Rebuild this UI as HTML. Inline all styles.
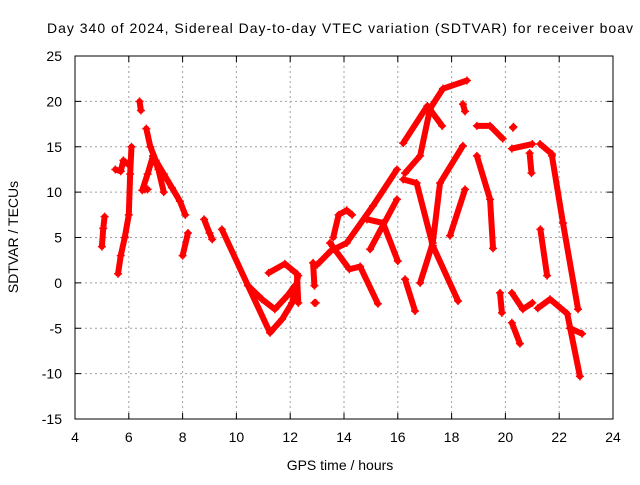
<!DOCTYPE html>
<html><head><meta charset="utf-8"><style>
body{margin:0;background:#fff}
svg text{font-family:"Liberation Sans",sans-serif;font-size:14px;fill:#000}
</style></head><body>
<svg id="chart" width="640" height="480">
<text x="47" y="33" textLength="586" lengthAdjust="spacing">Day 340 of 2024, Sidereal Day-to-day VTEC variation (SDTVAR) for receiver boav</text>
<text x="340" y="470" text-anchor="middle">GPS time / hours</text>
<text transform="translate(18,237) rotate(-90)" text-anchor="middle">SDTVAR / TECUs</text>
<g id="grid"></g><g id="ticks"></g><g id="marks"></g>
<rect x="75" y="56" width="538" height="363" fill="none" stroke="#000" stroke-width="1"/>
</svg>
<script>
const xTicks=[4,6,8,10,12,14,16,18,20,22,24];
const yTicks=[-15,-10,-5,0,5,10,15,20,25];
const tracks=[
[[5.0,4],[5.05,6],[5.1,7.3]],
[[5.6,1],[5.7,3],[5.85,5],[6.0,7.5],[6.05,12],[6.1,15]],
[[5.5,12.5],[5.7,12.3],[5.8,13.5],[6.0,13]],
[[6.4,20],[6.45,19]],
[[6.65,17],[6.8,15],[7.0,13.5],[7.3,12],[7.6,10.5],[7.9,9],[8.1,7.5]],
[[6.5,10.2],[6.7,12],[6.9,14],[7.1,12.5],[7.3,10]],
[[6.6,10.3],[6.7,10.3]],
[[8.0,3],[8.2,5.5]],
[[8.8,7],[9.0,5.5],[9.1,4.8]],
[[9.46,5.9],[10.43,-0.3],[11.25,-5.5],[11.7,-4.0],[12.07,-2.2],[12.3,0.8]],
[[10.43,-0.3],[10.95,-1.8],[11.43,-2.9],[11.9,-1.4],[12.18,-0.3]],
[[11.2,1.1],[11.8,2.1],[12.25,1.0],[12.3,-2.2]],
[[12.85,2.2],[12.9,-0.3]],
[[12.9,-2.2],[12.95,-2.2]],
[[13.6,5],[13.8,7.5],[14.1,8],[14.3,7.5]],
[[13.48,4.4],[14.2,1.5],[14.6,1.8],[15.26,-2.3]],
[[13.0,2],[13.5,3.5],[14.1,4.4],[15.08,8.5],[15.97,12.5]],
[[14.85,7.0],[15.45,6.6],[16.0,2.4]],
[[14.97,3.7],[15.97,9.2]],
[[16.2,15.4],[17.1,19.5],[17.65,17.3]],
[[16.2,11.4],[16.7,11.0],[17.3,4.1],[18.24,-2.0]],
[[16.27,12.1],[16.83,14.0],[17.2,19.2],[17.68,21.4],[18.57,22.3]],
[[16.83,0.0],[17.3,4.4],[17.57,11.0],[18.42,15.1]],
[[17.94,5.2],[18.5,10.3]],
[[16.27,0.4],[16.64,-3.1]],
[[18.42,19.7],[18.5,18.9]],
[[18.94,14.0],[19.43,9.2],[19.54,3.8]],
[[18.94,17.3],[19.43,17.3],[19.9,15.9]],
[[20.28,17.1],[20.3,17.2]],
[[20.24,14.8],[21.0,15.3]],
[[20.9,14.3],[20.97,12.1]],
[[21.29,15.3],[21.73,14.2]],
[[21.73,14.0],[22.14,6.6],[22.7,-2.9]],
[[21.3,5.9],[21.55,0.8]],
[[19.8,-1.1],[19.87,-3.3]],
[[20.24,-1.1],[20.65,-2.9],[21.0,-2.2]],
[[20.24,-4.4],[20.54,-6.7]],
[[21.2,-2.8],[21.66,-1.8],[22.3,-3.4],[22.77,-10.3]],
[[22.4,-5.0],[22.85,-5.6]]
];
const NS='http://www.w3.org/2000/svg';
const X=t=>75+(t-4)*538/20, Y=v=>56+(25-v)*363/40;
function mk(tag,attrs,parent){const e=document.createElementNS(NS,tag);for(const k in attrs)e.setAttribute(k,attrs[k]);parent.appendChild(e);return e;}
const grid=document.getElementById('grid'),ticks=document.getElementById('ticks'),marks=document.getElementById('marks');
xTicks.forEach(t=>{const x=X(t);
 if(t>4&&t<24){const g=mk('line',{x1:x,x2:x,y1:56,y2:419,stroke:'#a0a0a0','stroke-dasharray':'2,3'},grid);
 
 }
 mk('line',{x1:x,x2:x,y1:419,y2:413,stroke:'#000'},ticks);mk('line',{x1:x,x2:x,y1:56,y2:62,stroke:'#000'},ticks);
 const l=mk('text',{x:x,y:442,'text-anchor':'middle'},ticks);l.textContent=t;
 
 });
yTicks.forEach(v=>{const y=Y(v);
 if(v>-15&&v<25){const g=mk('line',{x1:75,x2:613,y1:y,y2:y,stroke:'#a0a0a0','stroke-dasharray':'2,3'},grid);
 
 }
 mk('line',{x1:75,x2:81,y1:y,y2:y,stroke:'#000'},ticks);mk('line',{x1:613,x2:607,y1:y,y2:y,stroke:'#000'},ticks);
 const l=mk('text',{x:62,y:y+5,'text-anchor':'end'},ticks);l.textContent=v;
 
 });
tracks.forEach(tr=>{
 const p=mk('polyline',{points:tr.map(d=>X(d[0])+','+Y(d[1])).join(' '),fill:'none',stroke:'#ff0000','stroke-width':6,'stroke-linejoin':'round','stroke-linecap':'round'},marks);
 
 
 tr.forEach(d=>{const x=X(d[0]),y=Y(d[1]);
  const m=mk('path',{d:`M${x-4},${y}H${x+4}M${x},${y-4}V${y+4}`,stroke:'#ff0000','stroke-width':1.5},marks);
  
  });
});
</script>
</body></html>
